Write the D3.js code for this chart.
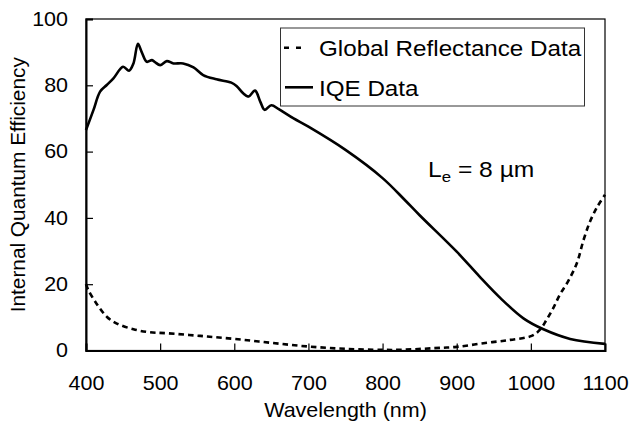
<!DOCTYPE html>
<html><head><meta charset="utf-8">
<script src="https://cdn.jsdelivr.net/npm/d3@7"></script>
<style>body{margin:0;background:#fff}svg{display:block}text{font-family:"Liberation Sans",Arial,sans-serif;fill:#000}</style>
</head><body><svg id="c" width="631" height="426"></svg>
<script>
const xTicks = [400,500,600,700,800,900,1000,1100];
const yTicks = [0,20,40,60,80,100];
const iqeWavelength = [400,410,419,428,437,450,458,464,470,475,482,489,493,500,509,518,531,545,558,576,596,603,612,619,628,635,641,650,660,680,700,750,800,830,850,900,930,959,990,1017,1053,1100];
const iqeValues = [66.5,72.5,78.1,80.1,82.1,85.6,84.4,86.6,92.5,90.1,87.1,87.6,87.0,86.1,87.3,86.6,86.6,85.4,83.1,81.8,80.8,79.8,77.6,76.6,78.4,75.1,72.6,74,72.8,70,67.5,60.5,52,45.4,40.8,29.8,22.5,15.8,9.7,6.4,3.5,2.0];
const reflWavelength = [400,403,414,428,441,464,486,509,554,600,650,700,750,800,824,869,900,936,972,1001,1012,1021,1030,1039,1050,1062,1071,1080,1090,1100];
const reflValues = [20,18.3,14.2,10.2,8.2,6.4,5.5,5.2,4.4,3.5,2.3,1.2,0.5,0.2,0.2,0.7,1.1,2.2,3.2,4.4,6.2,9.2,12.7,16.8,20.8,26.3,33.3,39,43.5,47];
const legendLabels = ["Global Reflectance Data","IQE Data"];

const svg = d3.select("#c");
const L=86,R=605,T=19,B=350.5;
const SX=1.085;
const x = d3.scaleLinear().domain([400,1100]).range([L,R]);
const y = d3.scaleLinear().domain([0,100]).range([B,T]);

svg.append("rect").attr("x",L).attr("y",T).attr("width",R-L).attr("height",B-T)
  .attr("fill","none").attr("stroke","#000").attr("stroke-width",1.2);

const xAxis = svg.append("g").attr("transform",`translate(0,${B})`)
  .call(d3.axisBottom(x).tickValues(xTicks).tickSize(-7).tickFormat(d3.format("d")));
const yAxis = svg.append("g").attr("transform",`translate(${L},0)`)
  .call(d3.axisLeft(y).tickValues(yTicks).tickSize(-7));
[xAxis,yAxis].forEach(g=>{
  g.select(".domain").attr("stroke","#000").attr("stroke-width",2);
  g.selectAll(".tick line").attr("stroke","#000").attr("stroke-width",1.2);
  g.selectAll("text").attr("font-size",19.8).attr("font-family","Liberation Sans, Arial, sans-serif");
});
xAxis.selectAll("text").attr("x",0).attr("y",25).attr("dy","0.71em").attr("transform",`scale(${SX},1)`);
yAxis.selectAll("text").attr("x",-18/SX).attr("transform",`scale(${SX},1)`);

const line = d3.line().x(d=>x(d[0])).y(d=>y(d[1])).curve(d3.curveCatmullRom.alpha(0.5));
svg.append("path").datum(reflWavelength.map((w,i)=>[w,reflValues[i]]))
  .attr("d",line).attr("fill","none").attr("stroke","#000").attr("stroke-width",2.6).attr("stroke-dasharray","5.5,4");
svg.append("path").datum(iqeWavelength.map((w,i)=>[w,iqeValues[i]]))
  .attr("d",line).attr("fill","none").attr("stroke","#000").attr("stroke-width",2.6);

function stext(px,py,size,anchor,sx){
  return svg.append("g").attr("transform",`translate(${px},${py}) scale(${sx},1)`)
    .append("text").attr("text-anchor",anchor).attr("font-size",size);
}
stext((L+R)/2,416.5,19.8,"middle",SX).text("Wavelength (nm)");
svg.append("text").attr("transform",`translate(25,${(T+B)/2}) rotate(-90)`).attr("text-anchor","middle").attr("font-size",20.8).text("Internal Quantum Efficiency");

svg.append("rect").attr("x",280.5).attr("y",28).attr("width",304).attr("height",78).attr("fill","#fff").attr("stroke","#333").attr("stroke-width",1);
svg.append("line").attr("x1",284).attr("x2",301).attr("y1",47.7).attr("y2",47.7).attr("stroke","#000").attr("stroke-width",2.6).attr("stroke-dasharray","5,7");
svg.append("line").attr("x1",285).attr("x2",313).attr("y1",87.3).attr("y2",87.3).attr("stroke","#000").attr("stroke-width",2.6);
stext(319,56,22,"start",1.1).text(legendLabels[0]);
stext(319,95.5,22,"start",1.1).text(legendLabels[1]);

const ann = stext(428,176.7,22,"start",1.12);
ann.append("tspan").text("L");
ann.append("tspan").attr("font-size",15).attr("dy",5).text("e");
ann.append("tspan").attr("dy",-5).text(" = 8 \u00B5m");
</script></body></html>
